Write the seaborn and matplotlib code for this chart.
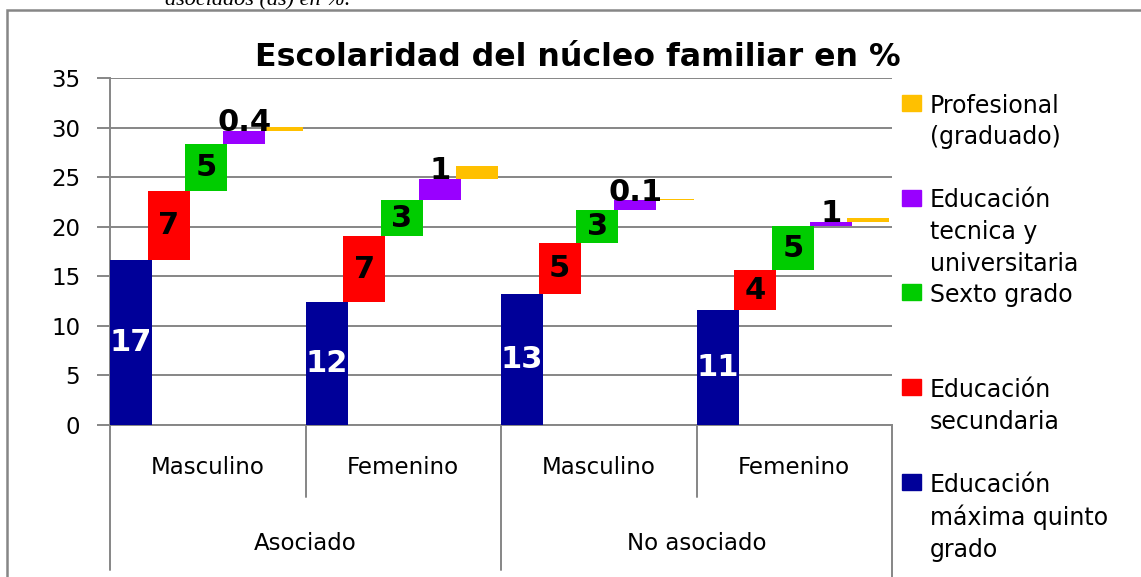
import numpy as np
import pandas as pd
import seaborn as sns
import matplotlib.pyplot as plt
from matplotlib.patches import Rectangle
from matplotlib.transforms import blended_transform_factory

W, H, DPI = 1141, 577, 100

# categories (two-level x axis)
categories = ["Masculino", "Femenino", "Masculino", "Femenino"]
groups = ["Asociado", "No asociado"]

# series, bottom to top of each staircase
series = ["Educación máxima quinto grado", "Educación secundaria", "Sexto grado",
          "Educación tecnica y universitaria", "Profesional (graduado)"]
legend_text = ["Educación\nmáxima quinto\ngrado", "Educación\nsecundaria", "Sexto grado",
               "Educación\ntecnica y\nuniversitaria", "Profesional\n(graduado)"]
colors = ["#000099", "#FF0000", "#00CC00", "#9900FF", "#FFC000"]

# segment heights
quinto = [16.65, 12.4, 13.2, 11.6]
secundaria = [7.0, 6.65, 5.2, 4.0]
sexto = [4.65, 3.6, 3.25, 4.45]
tecnica = [1.4, 2.2, 1.0, 0.45]
profesional = [0.4, 1.3, 0.15, 0.35]

# data labels as printed on the chart
lab_quinto = ["17", "12", "13", "11"]
lab_secundaria = ["7", "7", "5", "4"]
lab_sexto = ["5", "3", "3", "5"]
lab_tecnica = ["0.4", "1", "0.1", "1"]

values = [quinto, secundaria, sexto, tecnica, profesional]
labels = [lab_quinto, lab_secundaria, lab_sexto, lab_tecnica, None]

sns.set_style("white")
plt.rcParams['font.family'] = ['DejaVu Sans']
plt.rcParams['text.color'] = 'black'
plt.rcParams['ytick.labelcolor'] = 'black'

GRAY = "#868686"

fig = plt.figure(figsize=(W / DPI, H / DPI), dpi=DPI)
ax = fig.add_axes([110 / W, 1 - 425 / H, 782 / W, 347 / H])

step, bw = 0.193, 0.215
bottom = np.zeros(len(categories))
for j, (vals, col, labs) in enumerate(zip(values, colors, labels)):
    vals = np.asarray(vals)
    xs = np.arange(len(categories)) + j * step + bw / 2
    sns.barplot(x=xs, y=vals, native_scale=True, width=bw, bottom=bottom.copy(),
                color=col, saturation=1, errorbar=None, linewidth=0,
                ax=ax, zorder=3)
    if labs is not None:
        for x, b, v, t in zip(xs, bottom, vals, labs):
            if j == 3:
                # small segments: label sits just above the bar
                y, c = b + v + 0.8, "black"
            else:
                y, c = b + v / 2, ("white" if j == 0 else "black")
            ax.text(x, y, t, ha="center", va="center", color=c,
                    fontsize=22, fontweight="bold", zorder=5)
    bottom += vals

# axes styling
ax.set_xlim(0, 4)
ax.set_ylim(0, 35)
ax.set_yticks(range(0, 36, 5))
ax.set_xticks([])
ax.set_xlabel("")
ax.set_ylabel("")
ax.set_axisbelow(True)
ax.yaxis.grid(True, color=GRAY, lw=1.4)
ax.xaxis.grid(False)
for s in ["top", "right"]:
    ax.spines[s].set_visible(False)
for s in ["left", "bottom"]:
    ax.spines[s].set_color(GRAY)
    ax.spines[s].set_linewidth(1.4)
ax.tick_params(axis="y", length=9.4, width=1.4, color=GRAY, pad=12,
               labelsize=16.5, labelcolor="black", left=True)

# two-level category axis
trans = blended_transform_factory(ax.transData, ax.transAxes)
for x in [1, 3]:
    ax.plot([x, x], [0, -72 / 347], transform=trans, color=GRAY, lw=1.4, clip_on=False)
for x in [0, 2]:
    ax.plot([x, x], [0, -145 / 347], transform=trans, color=GRAY, lw=1.4, clip_on=False)
ax.plot([4, 4], [0, -0.5], transform=trans, color=GRAY, lw=1.4, clip_on=False)
for i, c in enumerate(categories):
    ax.text(i + 0.5, -43 / 347, c, transform=trans, ha="center", va="center",
            fontsize=16.5, color="black")
for g, gname in enumerate(groups):
    ax.text(2 * g + 1, -118 / 347, gname, transform=trans, ha="center", va="center",
            fontsize=16.5, color="black")

# title
fig.text(578 / W, 1 - 57 / H, "Escolaridad del núcleo familiar en %", ha="center",
         va="center", fontsize=22.8, fontweight="bold", color="black")

# legend, drawn like the original: top entry is the last series
for k, idx in enumerate(range(len(series) - 1, -1, -1)):
    yc = 103 + k * 94.7
    fig.patches.append(Rectangle((902 / W, 1 - (yc + 8) / H), 19 / W, 16 / H,
                                 transform=fig.transFigure, color=colors[idx]))
    fig.text(930 / W, 1 - (yc - 9.3) / H, legend_text[idx], ha="left", va="top",
             fontsize=17, linespacing=1.41, color="black")

# clipped caption line from the page above the chart
fig.text(165 / W, 1 - 5 / H, "asociados (as) en %.", ha="left", va="baseline",
         fontsize=16, family="Liberation Serif", style="italic", color="black")

# chart frame
fig.patches.append(Rectangle((7 / W, -0.1), 1.2, 1 - 10 / H + 0.1, transform=fig.transFigure,
                             fill=False, ec=GRAY, lw=1.8))

fig.savefig("out.png", dpi=DPI)
